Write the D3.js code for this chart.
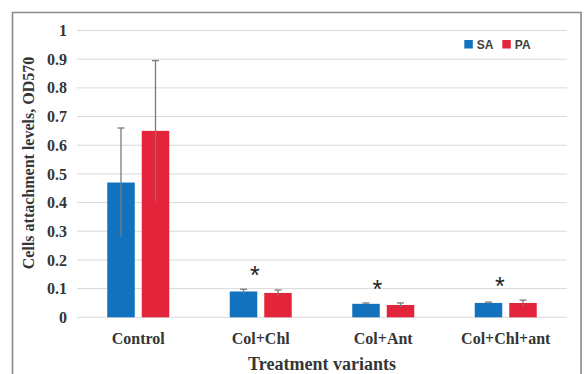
<!DOCTYPE html>
<html>
<head>
<meta charset="utf-8">
<script src="https://cdn.jsdelivr.net/npm/d3@7"></script>
<style>
  html, body { margin: 0; padding: 0; background: #fff; }
  svg { display: block; }
</style>
</head>
<body>
<svg id="chart" width="585" height="374"></svg>
<script>
// ---- data ----
const categories = ["Control", "Col+Chl", "Col+Ant", "Col+Chl+ant"];
const seriesNames = ["SA", "PA"];
const saValues = [0.47, 0.09, 0.047, 0.05];
const saErrors = [0.19, 0.008, 0.003, 0.003];
const paValues = [0.65, 0.085, 0.043, 0.05];
const paErrors = [0.245, 0.01, 0.007, 0.01];
const significance = ["", "*", "*", "*"];
const yTicks = [0, 0.1, 0.2, 0.3, 0.4, 0.5, 0.6, 0.7, 0.8, 0.9, 1];
const yTickLabels = ["0", "0.1", "0.2", "0.3", "0.4", "0.5", "0.6", "0.7", "0.8", "0.9", "1"];
const yTitle = "Cells attachment levels, OD570";
const xTitle = "Treatment variants";

const colors = { SA: "#1272BE", PA: "#E3243B" };
const serifFont = "'Liberation Serif', 'Times New Roman', serif";
const sansFont = "'Liberation Sans', Arial, sans-serif";
const textColor = "#353535";

const svg = d3.select("#chart");

// frame
svg.append("path")
  .attr("d", "M12.5,374 L12.5,12.5 L581,12.5 L581,374")
  .attr("fill", "none").attr("stroke", "#8a8a8a").attr("stroke-width", 1.6);

const plot = { left: 77, right: 567, top: 30.5, bottom: 317.3 };

const x = d3.scaleBand().domain(categories).range([plot.left, plot.right]).paddingInner(0).paddingOuter(0);
const y = d3.scaleLinear().domain([0, 1]).range([plot.bottom, plot.top]);
const barW = 27.5, barGap = 7;
const xs = d3.scaleOrdinal().domain(seriesNames).range([-(barGap / 2 + barW), barGap / 2]);

// gridlines
svg.append("g").selectAll("line").data(yTicks).join("line")
  .attr("x1", plot.left).attr("x2", plot.right)
  .attr("y1", d => y(d)).attr("y2", d => y(d))
  .attr("stroke", "#d9d9d9").attr("stroke-width", 1);

// y axis labels
const yAxis = d3.axisLeft(y).tickValues(yTicks).tickFormat((d, i) => yTickLabels[i]).tickSize(0).tickPadding(0);
const yg = svg.append("g").attr("transform", `translate(${plot.left - 10},0)`).call(yAxis);
yg.select(".domain").remove();
yg.selectAll("text").attr("font-family", serifFont).attr("font-weight", "bold")
  .attr("font-size", 16).attr("fill", textColor);

// x axis labels
const xAxis = d3.axisBottom(x).tickSize(0).tickPadding(0);
const xg = svg.append("g").attr("transform", `translate(0,${plot.bottom + 15})`).call(xAxis);
xg.select(".domain").remove();
xg.selectAll("text").attr("font-family", serifFont).attr("font-weight", "bold")
  .attr("font-size", 16).attr("fill", textColor);

// bars
const series = [
  { name: "SA", values: saValues, errors: saErrors },
  { name: "PA", values: paValues, errors: paErrors }
];
series.forEach(s => {
  const g = svg.append("g");
  const data = categories.map((c, i) => ({ c, v: s.values[i], e: s.errors[i] }));
  g.selectAll("rect").data(data).join("rect")
    .attr("x", d => x(d.c) + x.bandwidth() / 2 + xs(s.name))
    .attr("y", d => y(d.v))
    .attr("width", barW)
    .attr("height", d => y(0) - y(d.v))
    .attr("fill", colors[s.name]);
  const cx = d => x(d.c) + x.bandwidth() / 2 + xs(s.name) + barW / 2;
  g.selectAll("line.err").data(data).join("line").attr("class", "err")
    .attr("x1", cx).attr("x2", cx)
    .attr("y1", d => y(d.v - d.e)).attr("y2", d => y(d.v + d.e))
    .attr("stroke", "#7a7a7a").attr("stroke-width", 1.3);
  g.selectAll("line.cap").data(data).join("line").attr("class", "cap")
    .attr("x1", d => cx(d) - 3.5).attr("x2", d => cx(d) + 3.5)
    .attr("y1", d => y(d.v + d.e)).attr("y2", d => y(d.v + d.e))
    .attr("stroke", "#7a7a7a").attr("stroke-width", 1.3);
});

// significance stars
svg.append("g").selectAll("text").data(categories).join("text")
  .attr("x", d => x(d) + x.bandwidth() / 2 - 6)
  .attr("y", (d, i) => y(Math.max(saValues[i] + saErrors[i], paValues[i] + paErrors[i])) - 19 + 14)
  .attr("text-anchor", "middle")
  .attr("font-family", sansFont).attr("font-size", 25).attr("fill", "#222")
  .text((d, i) => significance[i]);

// axis titles
svg.append("text")
  .attr("transform", `translate(34,163) rotate(-90)`)
  .attr("text-anchor", "middle")
  .attr("font-family", serifFont).attr("font-weight", "bold").attr("font-size", 16)
  .attr("fill", textColor).text(yTitle);
svg.append("text")
  .attr("x", 322).attr("y", 370)
  .attr("text-anchor", "middle")
  .attr("font-family", serifFont).attr("font-weight", "bold").attr("font-size", 18)
  .attr("fill", textColor).text(xTitle);

// legend
const legendX = [464.3, 502.3];
const lg = svg.append("g");
seriesNames.forEach((n, i) => {
  lg.append("rect").attr("x", legendX[i]).attr("y", 40).attr("width", 8.5).attr("height", 8.5)
    .attr("fill", colors[n]);
  lg.append("text").attr("x", legendX[i] + 12.5).attr("y", 48.5)
    .attr("font-family", sansFont).attr("font-weight", "bold").attr("font-size", 12)
    .attr("fill", "#404040").text(n);
});
</script>
</body>
</html>
